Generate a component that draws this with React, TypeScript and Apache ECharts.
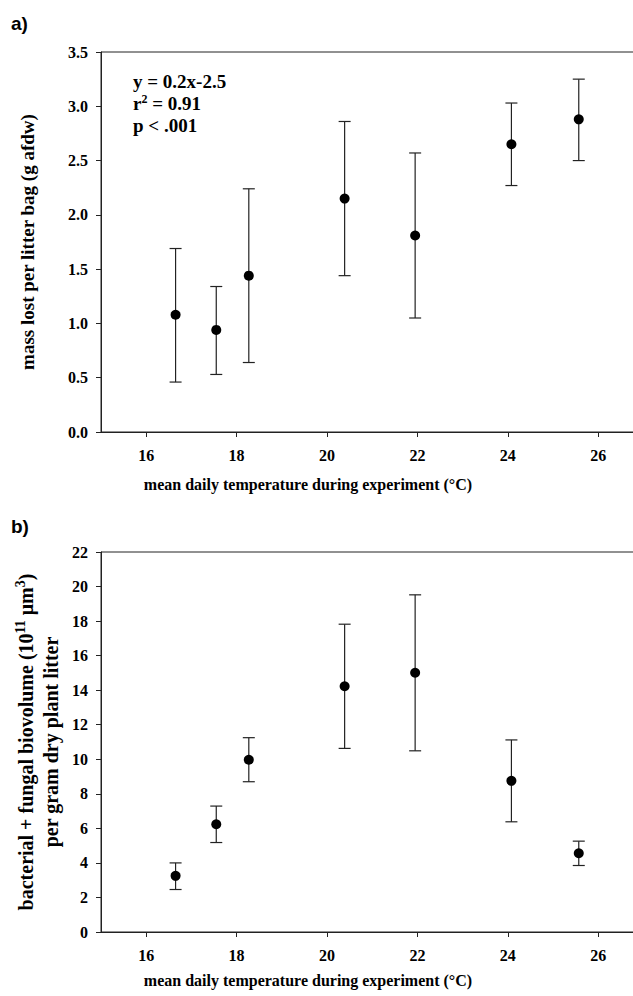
import React, { useEffect, useRef } from "react";
import * as echarts from "echarts";

// ---- data ----
const temps = [16.65, 17.55, 18.27, 20.39, 21.95, 24.08, 25.57];

const massMean = [1.08, 0.94, 1.44, 2.15, 1.81, 2.65, 2.88];
const massHigh = [1.69, 1.34, 2.24, 2.86, 2.57, 3.03, 3.25];
const massLow = [0.46, 0.53, 0.64, 1.44, 1.05, 2.27, 2.5];

const bioMean = [3.25, 6.24, 9.97, 14.23, 15.01, 8.75, 4.56];
const bioHigh = [4.0, 7.29, 11.25, 17.82, 19.52, 11.12, 5.26];
const bioLow = [2.46, 5.18, 8.7, 10.63, 10.49, 6.38, 3.85];

const xTicks = [16, 18, 20, 22, 24, 26];

const xTitle = "mean daily temperature during experiment (°C)";
const yTitleA = "mass lost per litter bag (g afdw)";
const yTitleB =
  "{n|bacterial + fungal biovolume (10}{s|11}{n| μm}{s|3}{n|)}\n{n|per gram dry plant litter}";
const statsText = "{n|y = 0.2x-2.5}\n{n|r}{s|2}{n| = 0.91}\n{n|p < .001}";

const SERIF = '"Liberation Serif", "Times New Roman", serif';
const SANS = '"Liberation Sans", Arial, sans-serif';

function errorBarSeries(xIdx: number, low: number[], high: number[]) {
  return {
    type: "custom",
    xAxisIndex: xIdx,
    yAxisIndex: xIdx,
    z: 2,
    silent: true,
    data: temps.map((t, i) => [t, low[i], high[i]]),
    encode: { x: 0, y: [1, 2] },
    renderItem: (_params: any, api: any) => {
      const x = api.value(0);
      const lo = api.coord([x, api.value(1)]);
      const hi = api.coord([x, api.value(2)]);
      const cap = 6;
      const style = { stroke: "#222", lineWidth: 1.2 };
      return {
        type: "group",
        children: [
          { type: "line", shape: { x1: lo[0], y1: lo[1], x2: hi[0], y2: hi[1] }, style },
          { type: "line", shape: { x1: hi[0] - cap, y1: hi[1], x2: hi[0] + cap, y2: hi[1] }, style },
          { type: "line", shape: { x1: lo[0] - cap, y1: lo[1], x2: lo[0] + cap, y2: lo[1] }, style },
        ],
      };
    },
  };
}

function xAxisDef(gridIndex: number) {
  return {
    type: "value",
    gridIndex,
    min: 15,
    max: 27,
    axisLine: { show: true, lineStyle: { color: "#222", width: 1 } },
    axisTick: { show: true, length: 5, inside: false, customValues: xTicks, lineStyle: { color: "#222" } },
    axisLabel: {
      show: true,
      customValues: xTicks,
      margin: 15,
      fontFamily: SERIF,
      fontWeight: "bold",
      fontSize: 16,
      color: "#000",
    },
    splitLine: { show: false },
  };
}

const yLabelStyle = {
  margin: 13,
  fontFamily: SERIF,
  fontWeight: "bold",
  fontSize: 16,
  color: "#000",
};

export default function App() {
  const ref = useRef<HTMLDivElement>(null);

  useEffect(() => {
    if (!ref.current) return;
    const chart = echarts.init(ref.current, undefined, { renderer: "svg" });
    const option: any = {
      animation: false,
      backgroundColor: "#fff",
      grid: [
        { left: 101, top: 52, width: 542.4, height: 380, show: true, borderColor: "#222", borderWidth: 1 },
        { left: 101, top: 552, width: 542.4, height: 380, show: true, borderColor: "#222", borderWidth: 1 },
      ],
      xAxis: [xAxisDef(0), xAxisDef(1)],
      yAxis: [
        {
          type: "value",
          gridIndex: 0,
          min: 0,
          max: 3.5,
          interval: 0.5,
          name: yTitleA,
          nameLocation: "middle",
          nameGap: 64,
          nameTextStyle: { fontFamily: SERIF, fontWeight: "bold", fontSize: 19, color: "#000" },
          axisLine: { show: true, lineStyle: { color: "#222", width: 1 } },
          axisTick: { show: true, length: 5, lineStyle: { color: "#222" } },
          axisLabel: { ...yLabelStyle, formatter: (v: number) => v.toFixed(1) },
          splitLine: { show: false },
        },
        {
          type: "value",
          gridIndex: 1,
          min: 0,
          max: 22,
          interval: 2,
          name: yTitleB,
          nameLocation: "middle",
          nameGap: 38,
          nameTextStyle: {
            align: "center",
            rich: {
              n: { fontFamily: SERIF, fontWeight: "bold", fontSize: 20, lineHeight: 25, color: "#000" },
              s: { fontFamily: SERIF, fontWeight: "bold", fontSize: 14, lineHeight: 25, color: "#000", verticalAlign: "top", padding: [0, 0, 8, 0] },
            },
          },
          axisLine: { show: true, lineStyle: { color: "#222", width: 1 } },
          axisTick: { show: true, length: 5, lineStyle: { color: "#222" } },
          axisLabel: yLabelStyle,
          splitLine: { show: false },
        },
      ],
      graphic: [
        {
          type: "text",
          left: 11,
          top: 14,
          style: { text: "a)", font: `bold 19px ${SANS}`, fill: "#000" },
        },
        {
          type: "text",
          left: 11,
          top: 517,
          style: { text: "b)", font: `bold 19px ${SANS}`, fill: "#000" },
        },
        {
          type: "text",
          left: 133,
          top: 72,
          style: {
            text: statsText,
            rich: {
              n: { font: `bold 19px ${SERIF}`, lineHeight: 22, fill: "#000" },
              s: { font: `bold 12px ${SERIF}`, lineHeight: 22, fill: "#000", verticalAlign: "top", padding: [0, 0, 8, 0] },
            },
          },
        },
        {
          type: "text",
          x: 308,
          y: 484,
          style: { text: xTitle, font: `bold 16px ${SERIF}`, fill: "#000", align: "center", verticalAlign: "middle" },
        },
        {
          type: "text",
          x: 308,
          y: 980,
          style: { text: xTitle, font: `bold 16px ${SERIF}`, fill: "#000", align: "center", verticalAlign: "middle" },
        },
      ],
      series: [
        errorBarSeries(0, massLow, massHigh),
        {
          type: "scatter",
          xAxisIndex: 0,
          yAxisIndex: 0,
          z: 3,
          symbol: "circle",
          symbolSize: 10,
          itemStyle: { color: "#000", opacity: 1 },
          data: temps.map((t, i) => [t, massMean[i]]),
        },
        errorBarSeries(1, bioLow, bioHigh),
        {
          type: "scatter",
          xAxisIndex: 1,
          yAxisIndex: 1,
          z: 3,
          symbol: "circle",
          symbolSize: 10,
          itemStyle: { color: "#000", opacity: 1 },
          data: temps.map((t, i) => [t, bioMean[i]]),
        },
      ],
    };
    chart.setOption(option);
    return () => chart.dispose();
  }, []);

  return (
    <div style={{ position: "absolute", left: 0, top: 0, width: 633, height: 996, overflow: "hidden", background: "#fff" }}>
      <div ref={ref} style={{ width: 680, height: 996 }} />
    </div>
  );
}
